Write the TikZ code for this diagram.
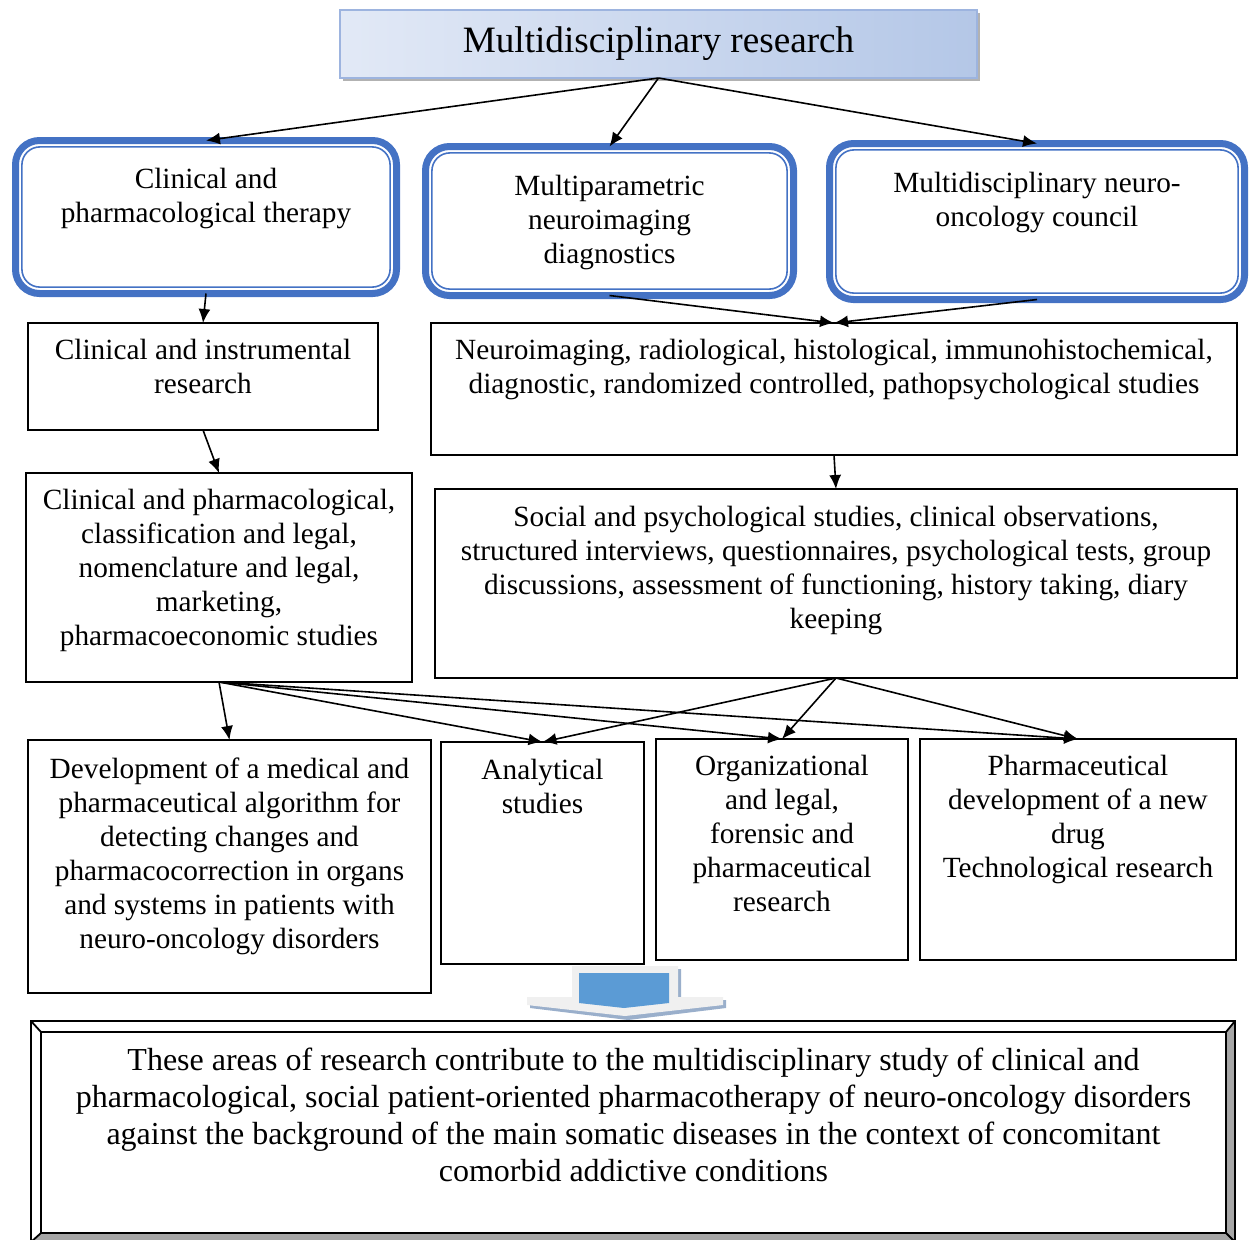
\documentclass[tikz,border=0pt]{standalone}
\usepackage{fontspec}
\setmainfont{Liberation Serif}
\usetikzlibrary{arrows.meta,shadows,positioning}
\definecolor{frameblue}{HTML}{4472C4}
\definecolor{headleft}{HTML}{E2E9F6}
\definecolor{headright}{HTML}{B4C7E7}
\definecolor{headline}{HTML}{9DB4DF}
\definecolor{arrowblue}{HTML}{5B9BD5}
\definecolor{arrowshade}{HTML}{9AAFCB}
\definecolor{bevelgray}{HTML}{A6A6A6}
\newcommand{\bodyfont}{\fontsize{14.65}{17}\selectfont}

\begin{document}
\begin{tikzpicture}[x=0.5pt, y=-0.5pt,
    cell/.style={draw, line width=0.9pt, anchor=north west, inner sep=0pt, outer sep=0pt},
    rbox/.style={draw=frameblue, line width=3.5pt, rounded corners=12pt, anchor=north west, inner sep=0pt, outer sep=0pt},
    txt/.style={align=center, inner sep=0pt, anchor=north, font=\bodyfont},
    arr/.style={-{Latex[length=7pt,width=6pt]}, line width=0.8pt}]
    \useasboundingbox (0,0) rectangle (1252,1239);

    % head
    \node[draw=headline, line width=1pt, left color=headleft, right color=headright,
        drop shadow={shadow xshift=1.5pt, shadow yshift=-1.5pt, fill=black!30, opacity=1},
        minimum width=318.5pt, minimum height=34pt, anchor=north west, outer sep=0pt,
        font=\fontsize{18.6}{21}\selectfont] (head) at (340,10) {Multidisciplinary research};

    % three directions
    \node[rbox, minimum width=190.5pt, minimum height=76.5pt] (ther) at (15.5,140.5) {};
    \node[rbox, minimum width=184pt, minimum height=74.5pt] (diag) at (425.5,146.5) {};
    \node[rbox, minimum width=207.5pt, minimum height=78pt] (coun) at (829.5,143.5) {};
    \foreach \b in {ther,diag,coun}
        \draw[frameblue, line width=0.8pt, rounded corners=9pt]
            ([shift={(3.2pt,-3.2pt)}]\b.north west) rectangle ([shift={(-3.2pt,3.2pt)}]\b.south east);
    \node[txt, below=13.5pt of ther.north] (ther-t) {Clinical and\\pharmacological therapy};
    \node[txt, below=14.25pt of diag.north] (diag-t) {Multiparametric\\neuroimaging\\diagnostics};
    \node[txt, below=14.25pt of coun.north] (coun-t) {Multidisciplinary neuro-\\oncology council};

    % studies
    \node[cell, minimum width=175pt, minimum height=53.5pt] (cir) at (28,323) {};
    \node[cell, minimum width=403pt, minimum height=66pt] (neuro) at (431,323) {};
    \node[cell, minimum width=193pt, minimum height=104.5pt] (cpc) at (26,473) {};
    \node[cell, minimum width=401pt, minimum height=94.5pt] (soc) at (435,489) {};
    \node[txt, below=8pt of cir.north] (cir-t) {Clinical and instrumental\\research};
    \node[txt, below=8pt of neuro.north] (neuro-t) {Neuroimaging, radiological, histological, immunohistochemical,\\diagnostic, randomized controlled, pathopsychological studies};
    \node[txt, below=8pt of cpc.north] (cpc-t) {Clinical and pharmacological,\\classification and legal,\\nomenclature and legal,\\marketing,\\pharmacoeconomic studies};
    \node[txt, below=8.5pt of soc.north] (soc-t) {Social and psychological studies, clinical observations,\\structured interviews, questionnaires, psychological tests, group\\discussions, assessment of functioning, history taking, diary\\keeping};

    % outcomes
    \node[cell, minimum width=201.5pt, minimum height=126.5pt] (dev) at (28,740) {};
    \node[cell, minimum width=101.5pt, minimum height=111pt] (ana) at (441,742) {};
    \node[cell, minimum width=126pt, minimum height=110.5pt] (org) at (656,739) {};
    \node[cell, minimum width=158pt, minimum height=110.5pt] (pha) at (920,739) {};
    \node[txt, below=8.5pt of dev.north] (dev-t) {Development of a medical and\\pharmaceutical algorithm for\\detecting changes and\\pharmacocorrection in organs\\and systems in patients with\\neuro-oncology disorders};
    \node[txt, below=8.5pt of ana.north] (ana-t) {Analytical\\studies};
    \node[txt, below=8pt of org.north] (org-t) {Organizational\\and legal,\\forensic and\\pharmaceutical\\research};
    \node[txt, below=8pt of pha.north] (pha-t) {Pharmaceutical\\development of a new\\drug\\Technological research};

    % connectors
    \foreach \b in {ther,diag,coun}
        \draw[arr] (head.south) -- (\b.north);
    \draw[arr] (ther.south) -- (cir.north);
    \draw[arr] (diag.south) -- (neuro.north);
    \draw[arr] (coun.south) -- (neuro.north);
    \draw[arr] (cir.south) -- (cpc.north);
    \draw[arr] (neuro.south) -- (soc.north);
    \foreach \b in {dev,ana,org,pha}
        \draw[arr] (cpc.south) -- (\b.north);
    \foreach \b in {ana,org,pha}
        \draw[arr] (soc.south) -- (\b.north);

    % block arrow
    \fill[arrowshade] (575,969) -- (681,969) -- (681,1000) -- (726,1000) -- (726,1008) -- (628,1020) -- (530,1008) -- (530,1000) -- (575,1000) -- cycle;
    \fill[black!6] (572,966) -- (678,966) -- (678,997) -- (723,997) -- (723,1005) -- (625,1016) -- (527,1005) -- (527,997) -- (572,997) -- cycle;
    \fill[arrowblue] (579,973) -- (669,973) -- (669,1003) -- (624,1008) -- (579,1003) -- cycle;

    % summary
    \node[cell, minimum width=592.5pt, minimum height=100.5pt] (summ) at (41,1032) {};
    \fill[bevelgray] (summ.north east) -- (1235,1021) -- (1235,1242) -- (31,1242)
        -- (summ.south west) -- (summ.south east) -- cycle;
    \draw[line width=0.9pt] (31,1021) rectangle (1235,1242);
    \draw[line width=0.9pt] (summ.north west) rectangle (summ.south east);
    \draw[line width=0.9pt] (31,1021) -- (summ.north west) (1235,1021) -- (summ.north east)
        (1235,1242) -- (summ.south east) (31,1242) -- (summ.south west);
    \node[txt, font=\fontsize{16}{18.5}\selectfont, below=8pt of summ.north] (summ-t) {These areas of research contribute to the multidisciplinary study of clinical and\\pharmacological, social patient-oriented pharmacotherapy of neuro-oncology disorders\\against the background of the main somatic diseases in the context of concomitant\\comorbid addictive conditions};
\end{tikzpicture}
\end{document}
